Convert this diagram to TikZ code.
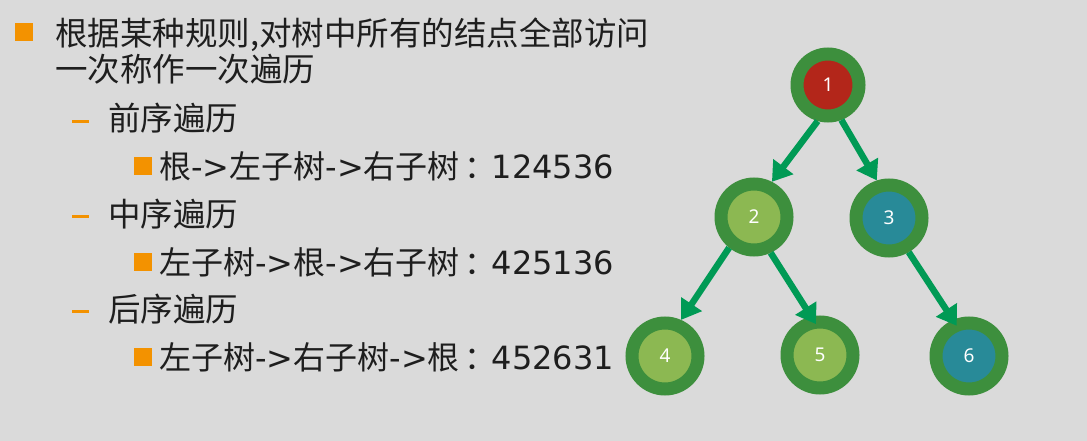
\documentclass[tikz,border=0pt]{standalone}
\usepackage{fontspec}
\setmainfont{Noto Sans CJK SC}
\newfontfamily\latinfont{DejaVu Sans}
\newfontfamily\numfont{Noto Sans}
\usetikzlibrary{arrows.meta}
\definecolor{slidebg}{HTML}{DADADA}
\definecolor{ringgreen}{HTML}{3D8F3D}
\definecolor{arrowgreen}{HTML}{009A55}
\definecolor{rootred}{HTML}{B3261A}
\definecolor{leafgreen}{HTML}{8CB852}
\definecolor{nodeteal}{HTML}{288A98}
\definecolor{bulletorange}{HTML}{F39200}
\definecolor{inkblack}{HTML}{1E1E1E}
\newcommand{\lat}[1]{{\latinfont #1}}
\tikzset{%
            base/.style = {circle, draw=ringgreen, line width=13pt,
                           minimum size=66pt, inner sep=0pt, outer sep=6.5pt,
                           text=white, font=\numfont\fontsize{19}{19}\selectfont},
  box1/.style = {base, minimum size=62pt, fill=rootred},
  box2/.style = {base, fill=leafgreen},
  box3/.style = {base, fill=nodeteal},
  edge/.style = {-{Triangle[width=24pt,length=19pt]}, draw=arrowgreen, fill=arrowgreen, line width=6.5pt},
  textA/.style = {anchor=west, inner sep=0pt, text=inkblack, font=\fontsize{32.5}{39}\selectfont},
  textB/.style = {textA, font=\fontsize{32}{38}\selectfont},
  bulletsq/.style = {rectangle, fill=bulletorange, minimum size=18pt, inner sep=0pt},
  bulletdash/.style = {rectangle, fill=bulletorange, minimum width=17pt, minimum height=3pt, inner sep=0pt},
}
\begin{document}
\begin{tikzpicture}[x=1pt, y=-1pt]

  \fill[slidebg] (0,0) rectangle (1087,441);

  \node (on_bullet_0) [bulletsq]   at (24,32)     {};
  \node (on_text_0)   [textA]      at (55,34.5)   {根据某种规则,对树中所有的结点全部访问};
  \node (on_text_1)   [textA]      at (55,69)     {一次称作一次遍历};

  \node (on_dash_1)   [bulletdash] at (80,121.5)  {};
  \node (on_pre)      [textA]      at (108,118)   {前序遍历};
  \node (on_bullet_1) [bulletsq]   at (142.5,166) {};
  \node (on_pre_seq)  [textB]      at (159,166)   {根\lat{->}左子树\lat{->}右子树\hspace{5pt}：\hspace{-5pt}\lat{124536}};

  \node (on_dash_2)   [bulletdash] at (80,216)    {};
  \node (on_in)       [textA]      at (108,214.5) {中序遍历};
  \node (on_bullet_2) [bulletsq]   at (142.5,262) {};
  \node (on_in_seq)   [textB]      at (159,262)   {左子树\lat{->}根\lat{->}右子树\hspace{5pt}：\hspace{-5pt}\lat{425136}};

  \node (on_dash_3)   [bulletdash] at (80,311.5)  {};
  \node (on_post)     [textA]      at (108,309)   {后序遍历};
  \node (on_bullet_3) [bulletsq]   at (142.5,356.5) {};
  \node (on_post_seq) [textB]      at (159,357)   {左子树\lat{->}右子树\lat{->}根\hspace{5pt}：\hspace{-5pt}\lat{452631}};

  \node (onNode1) [box1] at (828,85)  {1};
  \node (onNode2) [box2] at (754,217) {2};
  \node (onNode3) [box3] at (889,218) {3};
  \node (onNode4) [box2] at (665,356) {4};
  \node (onNode5) [box2] at (820,355) {5};
  \node (onNode6) [box3] at (969,356) {6};

  \draw[edge]                  (onNode1.254) -- (onNode2.63);
  \draw[edge]                  (onNode1.291) -- (onNode3.108);
  \draw[edge]                  (onNode2.231) -- (onNode4.66);
  \draw[edge, shorten >=-9pt]  (onNode2.295) -- (onNode5.103);
  \draw[edge, shorten >=-7pt]  (onNode3.300) -- (onNode6.114);
\end{tikzpicture}
\end{document}
